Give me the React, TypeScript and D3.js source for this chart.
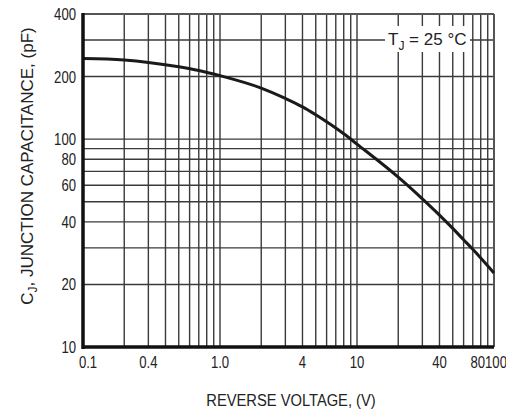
import React from 'react';
import * as d3 from 'd3';

// Curve: reverse voltage (V) vs junction capacitance (pF)
const voltages = [0.1, 0.2, 0.3, 0.5, 0.7, 1, 2, 3, 4, 5, 6, 7, 8, 10, 20, 30, 40, 50, 60, 70, 80, 100];
const capacitances = [244, 240, 234, 223, 214, 202, 176, 157, 143, 131, 121.2, 113.1, 106.1, 94.6, 65.6, 51.6, 43.1, 37.2, 32.8, 29.5, 26.8, 22.7];

// Axis tick labels (positions as printed in the reference)
const xTickPositions = [0.1, 0.3, 1, 4, 10, 40, 80, 100];
const xTickLabels = ['0.1', '0.4', '1.0', '4', '10', '40', '80', '100'];
const yTickValues = [10, 20, 40, 60, 80, 100, 200, 400];
const yTickLabels = ['10', '20', '40', '60', '80', '100', '200', '400'];

// Grid lines
const xGridValues = [0.2, 0.3, 0.4, 0.5, 0.6, 0.7, 0.8, 0.9, 1, 2, 3, 4, 5, 6, 7, 8, 9, 10, 20, 30, 40, 50, 60, 70, 80, 90];
const yGridValues = [20, 30, 40, 50, 60, 70, 80, 90, 100, 200, 300];

const FONT = '"Liberation Sans", Arial, sans-serif';

export default function App() {
  const W = 506, H = 412;
  const left = 83, right = 494, top = 14, bottom = 347;
  const x = d3.scaleLog().domain([0.1, 100]).range([left, right]);
  const y = d3.scaleLog().domain([10, 400]).range([bottom, top]);
  const line = d3.line<number>()
    .x((_, i) => x(voltages[i]))
    .y((d) => y(d))
    .curve(d3.curveMonotoneX);
  const path = line(capacitances) || '';
  const gridColor = '#3a3a3a';
  const n = xTickPositions.length;
  const xLabelShift = (i: number) => (i === 0 ? 5 : i === n - 1 ? 2 : i === n - 2 ? -3 : 0);

  return (
    <svg width={W} height={H} style={{ position: 'absolute', left: 0, top: 0, background: '#fff' }}>
      <rect x={0} y={0} width={W} height={H} fill="#fff" />
      {/* grid */}
      {xGridValues.map((v) => (
        <line key={'xg' + v} x1={x(v)} x2={x(v)} y1={top} y2={bottom} stroke={gridColor} strokeWidth={1.4} />
      ))}
      {yGridValues.map((v) => (
        <line key={'yg' + v} x1={left} x2={right} y1={y(v)} y2={y(v)} stroke={gridColor} strokeWidth={1.4} />
      ))}
      {/* top & right borders */}
      <line x1={left} x2={right} y1={top} y2={top} stroke="#555" strokeWidth={2} />
      <line x1={right} x2={right} y1={top} y2={bottom} stroke="#555" strokeWidth={2} />

      {/* TJ label with white box */}
      <rect x={385} y={26} width={85} height={26} fill="#fff" />
      <text x={388} y={45} fontFamily={FONT} fontSize={17} fill="#222">
        T<tspan fontSize={12} dy={5}>J</tspan><tspan dy={-5}> = 25 °C</tspan>
      </text>

      {/* curve */}
      <path d={path} fill="none" stroke="#1a1a1a" strokeWidth={3} />

      {/* thick left & bottom axes */}
      <line x1={left} x2={left} y1={top - 1} y2={bottom + 2} stroke="#111" strokeWidth={3.5} />
      <line x1={left - 1} x2={right} y1={bottom} y2={bottom} stroke="#111" strokeWidth={3.5} />

      {/* y tick labels */}
      {yTickValues.map((v, i) => (
        <text key={'yt' + v} transform={`translate(76,${y(v) + 6}) scale(0.82,1)`} textAnchor="end"
          fontFamily={FONT} fontSize={16} fill="#222">{yTickLabels[i]}</text>
      ))}
      {/* x tick labels */}
      {xTickPositions.map((v, i) => (
        <text key={'xt' + i} transform={`translate(${x(v) + xLabelShift(i)},368) scale(0.82,1)`}
          textAnchor="middle" fontFamily={FONT} fontSize={16} fill="#222">{xTickLabels[i]}</text>
      ))}

      {/* axis titles */}
      <text transform="translate(291,406) scale(0.92,1)" textAnchor="middle" fontFamily={FONT} fontSize={16} fill="#222">
        REVERSE VOLTAGE, (V)
      </text>
      <text transform="translate(33,166) rotate(-90)" textAnchor="middle" fontFamily={FONT} fontSize={17} fill="#222">
        C<tspan fontSize={12} dy={4}>J</tspan><tspan dy={-4}>, JUNCTION CAPACITANCE, (pF)</tspan>
      </text>
    </svg>
  );
}
